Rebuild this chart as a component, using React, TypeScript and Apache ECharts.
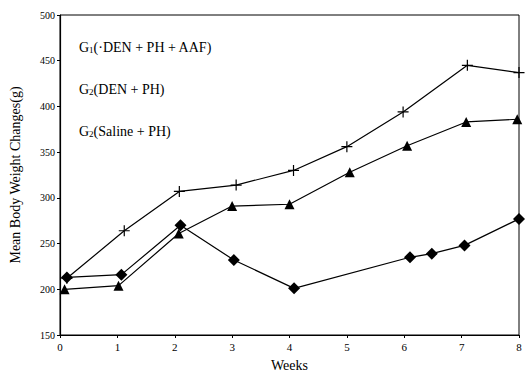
import React, { useEffect, useRef } from "react";
import * as echarts from "echarts";

const weeksG1 = [0.12, 1.12, 2.08, 3.07, 4.07, 5.0, 5.98, 7.1, 8.0];
const valuesG1 = [212, 264, 307, 314, 330, 356, 394, 445, 437];
const weeksG2 = [0.08, 1.02, 2.07, 3.0, 4.0, 5.05, 6.05, 7.08, 7.97];
const valuesG2 = [200, 204, 261, 291, 293, 328, 357, 383, 386];
const weeksG3 = [0.12, 1.07, 2.1, 3.03, 4.08, 6.1, 6.48, 7.05, 8.0];
const valuesG3 = [213, 216, 270, 232, 201, 235, 239, 248, 277];
const legendLines = [
  { sub: "1", rest: "(·DEN + PH + AAF)" },
  { sub: "2", rest: "(DEN + PH)" },
  { sub: "2", rest: "(Saline + PH)" },
];

const FONT = "'Liberation Serif', 'Times New Roman', serif";
const plusPath = "path://M0,5 L10,5 M5,0 L5,10";

export default function App() {
  const ref = useRef<HTMLDivElement>(null);
  useEffect(() => {
    if (!ref.current) return;
    const chart = echarts.init(ref.current, undefined, { renderer: "svg" });
    const zip = (xs: number[], ys: number[]) => xs.map((x, i) => [x, ys[i]]);
    const lineStyle = { color: "#000", width: 1.2 };
    chart.setOption({
      animation: false,
      backgroundColor: "#fff",
      textStyle: { fontFamily: FONT, color: "#000" },
      grid: {
        left: 57,
        right: 9,
        top: 15,
        bottom: 34,
        show: true,
        borderColor: "#000",
        borderWidth: 1,
      },
      xAxis: {
        type: "value",
        min: 0,
        max: 8,
        interval: 1,
        name: "Weeks",
        nameLocation: "middle",
        nameGap: 23,
        nameTextStyle: { fontFamily: FONT, fontSize: 14, color: "#000" },
        axisLine: { lineStyle: { color: "#000", width: 1.2 } },
        axisTick: { show: true, length: 3, lineStyle: { color: "#000" } },
        axisLabel: { fontFamily: FONT, fontSize: 11, color: "#000", margin: 6 },
        splitLine: { show: false },
      },
      yAxis: {
        type: "value",
        min: 150,
        max: 500,
        interval: 50,
        name: "Mean Body Weight Changes(g)",
        nameLocation: "middle",
        nameGap: 38,
        nameTextStyle: { fontFamily: FONT, fontSize: 14, color: "#000" },
        axisLine: { show: true, lineStyle: { color: "#000", width: 1.2 } },
        axisTick: { show: true, length: 3, lineStyle: { color: "#000" } },
        axisLabel: { fontFamily: FONT, fontSize: 10, color: "#000", margin: 5 },
        splitLine: { show: false },
      },
      series: [
        {
          type: "line",
          data: zip(weeksG1, valuesG1),
          symbol: plusPath,
          symbolSize: 11,
          lineStyle,
          itemStyle: { color: "transparent", borderColor: "#000", borderWidth: 1.2 },
          clip: false,
        },
        {
          type: "line",
          data: zip(weeksG2, valuesG2),
          symbol: "triangle",
          symbolSize: 10,
          lineStyle,
          itemStyle: { color: "#000" },
          clip: false,
        },
        {
          type: "line",
          data: zip(weeksG3, valuesG3),
          symbol: "diamond",
          symbolSize: 12,
          lineStyle,
          itemStyle: { color: "#000" },
          clip: false,
        },
      ],
      graphic: legendLines.map((l, i) => ({
        type: "text",
        left: 79,
        top: 40 + i * 42,
        style: {
          text: `{a|G}{s|${l.sub}}{a|${l.rest}}`,
          fill: "#000",
          rich: {
            a: { fontFamily: FONT, fontSize: 14, fill: "#000" },
            s: { fontFamily: FONT, fontSize: 9, fill: "#000", verticalAlign: "bottom", padding: [6, 0, 0, 0] },
          },
        },
      })),
    });
    return () => chart.dispose();
  }, []);
  return (
    <div
      ref={ref}
      style={{ position: "fixed", left: 0, top: 0, width: 528, height: 377 }}
    />
  );
}
